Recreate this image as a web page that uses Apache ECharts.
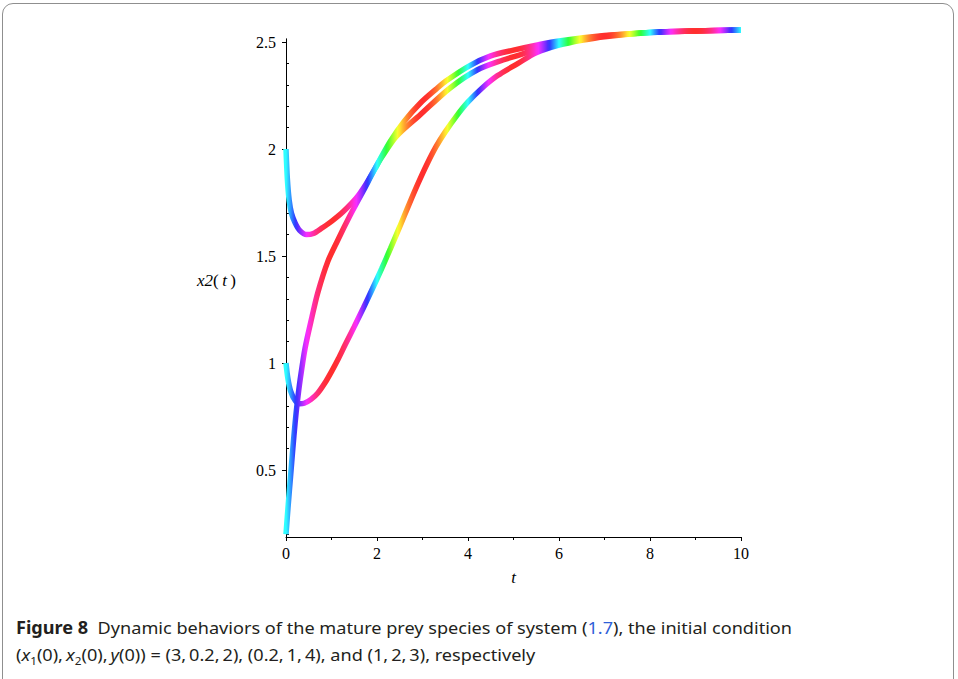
<!DOCTYPE html>
<html><head><meta charset="utf-8">
<script src="https://cdn.jsdelivr.net/npm/echarts@6/dist/echarts.min.js"></script>
<style>
html,body{margin:0;padding:0;background:#fff;}
#wrap{position:relative;width:958px;height:679px;overflow:hidden;background:#fff;}
#frame{position:absolute;left:2px;top:3px;width:952px;height:720px;border:1px solid #8f8f8f;border-radius:11px;box-sizing:border-box;}
#chart{position:absolute;left:0;top:0;width:958px;height:600px;}
#yname{position:absolute;left:197px;top:271px;font-family:"Liberation Serif","Times New Roman",serif;font-size:17px;color:#000;white-space:nowrap;}
#cap{position:absolute;left:16px;top:614px;font-family:"Noto Sans","Open Sans",sans-serif;font-size:17px;line-height:27px;color:#231f20;white-space:nowrap;transform-origin:0 0;}
#cap .l{color:#2f5fd8;}
#cap sub{font-size:11px;line-height:0;}
</style></head>
<body>
<div id="wrap">
  <div id="frame"></div>
  <div id="chart"></div>
  <div id="yname"><i>x2</i>(&thinsp;<i>t</i>&thinsp;)</div>
  <div id="cap"><div id="l1"><b>Figure 8</b>&nbsp; Dynamic behaviors of the mature prey species of system (<span class="l">1.7</span>), the initial condition</div><div id="l2">(<i>x</i><sub>1</sub>(0),&thinsp;<i>x</i><sub>2</sub>(0),&thinsp;<i>y</i>(0)) = (3,&thinsp;0.2,&thinsp;2), (0.2,&thinsp;1,&thinsp;4), and (1,&thinsp;2,&thinsp;3), respectively</div></div>
</div>
<script>
// Curve with x2(0)=2  (initial condition (1,2,3))
const tA = [0, 0.03, 0.07, 0.12, 0.2, 0.3, 0.45, 0.6, 0.8, 1.0, 1.26, 1.55, 1.75, 1.96, 2.1, 2.43, 2.95, 3.6, 4.2, 4.77, 5.14, 6, 7, 8, 9, 10];
const xA = [2.0, 1.86, 1.76, 1.70, 1.655, 1.62, 1.60, 1.605, 1.632, 1.662, 1.708, 1.772, 1.833, 1.91, 1.96, 2.06, 2.16, 2.284, 2.369, 2.416, 2.44, 2.497, 2.528, 2.545, 2.552, 2.556];
// Curve with x2(0)=1  (initial condition (0.2,1,4))
const tB = [0, 0.04, 0.1, 0.2, 0.3, 0.4, 0.55, 0.7, 0.85, 1.0, 1.15, 1.3, 1.5, 1.7, 1.9, 2.1, 2.3, 2.5, 2.7, 2.9, 3.1, 3.3, 3.5, 3.75, 4.0, 4.3, 4.65, 5.1, 5.5, 6, 6.5, 7, 8, 9, 10];
const xB = [1.0, 0.93, 0.87, 0.825, 0.81, 0.812, 0.83, 0.86, 0.905, 0.96, 1.02, 1.085, 1.17, 1.257, 1.347, 1.44, 1.537, 1.637, 1.739, 1.838, 1.93, 2.012, 2.08, 2.155, 2.22, 2.283, 2.343, 2.40, 2.45, 2.485, 2.508, 2.525, 2.544, 2.552, 2.556];
// Curve with x2(0)=0.2  (initial condition (3,0.2,2))
const tC = [0, 0.05, 0.1, 0.15, 0.2, 0.25, 0.31, 0.42, 0.57, 0.7, 0.92, 1.14, 1.41, 1.7, 1.96, 2.29, 2.6, 2.95, 3.3, 3.53, 4.04, 4.5, 5.0, 5.5, 6, 7, 8, 9, 10];
const xC = [0.2, 0.34, 0.47, 0.6, 0.72, 0.82, 0.92, 1.07, 1.215, 1.33, 1.475, 1.575, 1.69, 1.805, 1.91, 2.035, 2.13, 2.214, 2.28, 2.32, 2.39, 2.435, 2.462, 2.485, 2.505, 2.53, 2.545, 2.552, 2.556];

const yMajorTicks = [0.5, 1, 1.5, 2, 2.5];
const yMinorTicks = [0.2, 0.3, 0.4, 0.6, 0.7, 0.8, 0.9, 1.1, 1.2, 1.3, 1.4, 1.6, 1.7, 1.8, 1.9, 2.1, 2.2, 2.3, 2.4];

// colour scheme (styling): hue cycling with t, slightly lightened
function hsvHex(h){
  h = ((h % 1) + 1) % 1;
  const i = Math.floor(h*6), f = h*6 - i, q = 1 - f;
  const arr = [[1,f,0],[q,1,0],[0,1,f],[0,q,1],[f,0,1],[1,0,q]][i % 6];
  return '#' + arr.map(v => Math.round((0.82*v + 0.18)*255).toString(16).padStart(2,'0')).join('');
}
const colorStops = [];
for (let k = 0; k <= 200; k++) {
  const t = k * 0.05;
  colorStops.push(hsvHex(0.5 + 0.5*Math.sin(Math.PI*t/2) - 1e-9));
}

const serif = '"Liberation Serif","Times New Roman",serif';
const pairs = (ts, vs) => ts.map((t, i) => [t, vs[i]]);
const mkSeries = (name, ts, vs) => ({
  name, type: 'line', data: pairs(ts, vs), showSymbol: false, smooth: 0.3,
  clip: false, lineStyle: { width: 5.5 }, emphasis: { disabled: true }
});

const chart = echarts.init(document.getElementById('chart'), null, { renderer: 'svg' });
chart.setOption({
  animation: false,
  grid: { left: 286, right: 217, top: 38.8, bottom: 63, containLabel: false },
  visualMap: { type: 'continuous', show: false, dimension: 0, min: 0, max: 10, inRange: { color: colorStops }, seriesIndex: [0, 1, 2] },
  xAxis: {
    type: 'value', min: 0, max: 10, interval: 2,
    axisLine: { show: true, onZero: false, lineStyle: { color: '#000', width: 1 } },
    axisTick: { show: true, length: 4, lineStyle: { color: '#000' } },
    minorTick: { show: true, splitNumber: 2, length: 3, lineStyle: { color: '#000' } },
    splitLine: { show: false }, minorSplitLine: { show: false },
    axisLabel: { color: '#000', fontFamily: serif, fontSize: 16, margin: 8 },
    name: 't', nameLocation: 'middle', nameGap: 32,
    nameTextStyle: { color: '#000', fontFamily: serif, fontSize: 17, fontStyle: 'italic' }
  },
  yAxis: [{
    type: 'value', min: 0.187, max: 2.515, position: 'left',
    axisLine: { show: true, onZero: false, lineStyle: { color: '#000', width: 1 } },
    axisTick: { show: true, length: 4, customValues: yMajorTicks, lineStyle: { color: '#000' } },
    axisLabel: { customValues: yMajorTicks, color: '#000', fontFamily: serif, fontSize: 16, margin: 10 },
    splitLine: { show: false }
  }, {
    type: 'value', min: 0.187, max: 2.515, position: 'left',
    axisLine: { show: false },
    axisTick: { show: true, inside: true, length: 3, customValues: yMinorTicks, lineStyle: { color: '#000' } },
    axisLabel: { show: false },
    splitLine: { show: false }
  }],
  series: [mkSeries('B', tB, xB), mkSeries('A', tA, xA), mkSeries('C', tC, xC)]
});

// fit the caption to the reference width
const cap = document.getElementById('cap');
const w = document.getElementById('l1').getBoundingClientRect().width;
cap.style.transform = 'scaleX(' + (776 / w) + ')';
</script>
</body></html>
